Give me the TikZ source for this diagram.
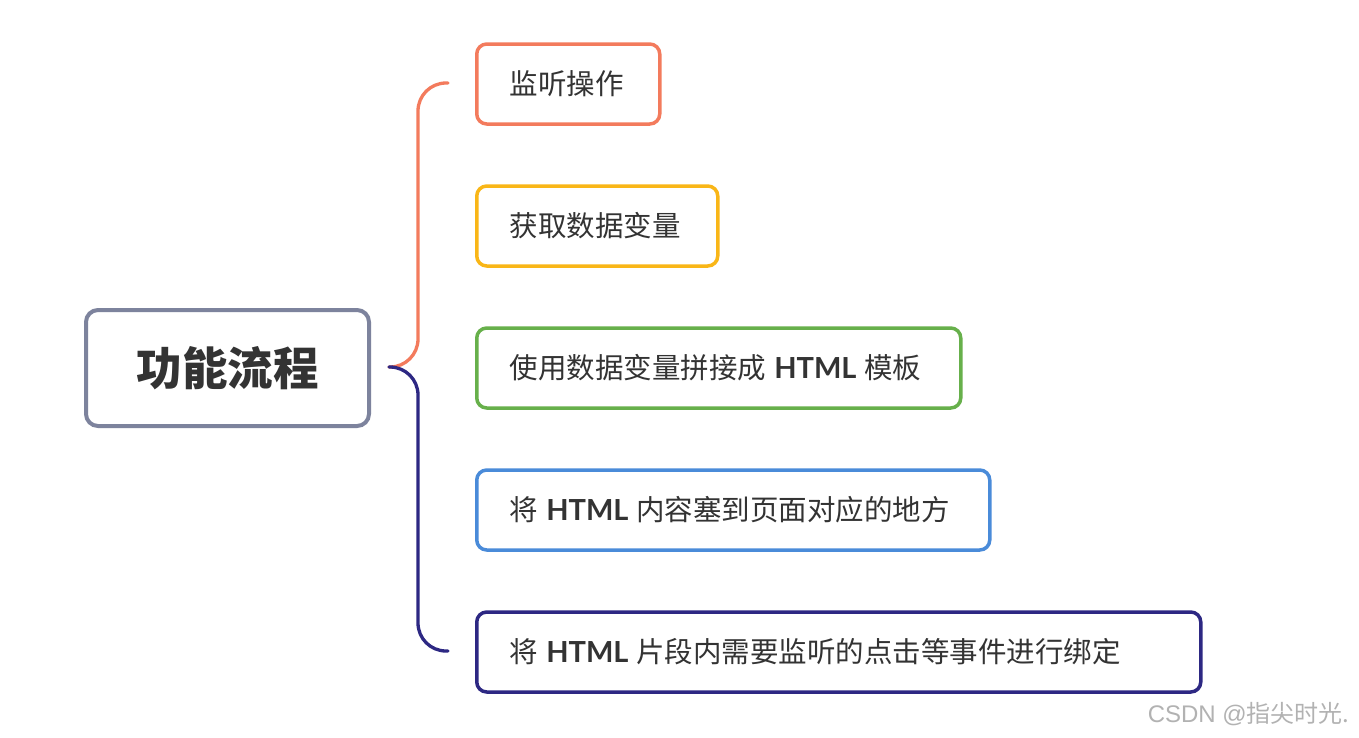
\documentclass[tikz,border=0pt]{standalone}
\usepackage{fontspec}
\setmainfont{Noto Sans CJK SC}
\newfontfamily\latinfont{Lato}
\newfontfamily\wmfont{Liberation Sans}
\usetikzlibrary{calc}
\definecolor{txt}{HTML}{333333}
\definecolor{rootc}{HTML}{7D839D}
\definecolor{c1}{HTML}{F37B5D}
\definecolor{c2}{HTML}{F9B617}
\definecolor{c3}{HTML}{67B04B}
\definecolor{c4}{HTML}{4A8BD9}
\definecolor{c5}{HTML}{2D2883}
\newcommand{\htmltxt}{\hspace{8pt}{\latinfont\bfseries\fontsize{29}{32}\selectfont HTML}\hspace{8pt}}
\tikzset{
  leafbox/.style={draw=#1, rounded corners=10pt, line width=3.5pt, inner xsep=33pt, inner ysep=0pt,
    minimum height=80pt, align=left, anchor=west, text=txt, font=\fontsize{28.5}{32}\selectfont},
  rootbox/.style={draw=rootc, rounded corners=12pt, line width=4pt, minimum width=283pt, minimum height=116pt,
    text=txt, font=\fontsize{45.5}{50}\selectfont\bfseries},
  bracel/.style={draw=#1, line width=3.3pt, rounded corners=28pt, line cap=round},
  wm/.style={text=black!30, font=\fontsize{24}{27}\selectfont, anchor=east}
}
\begin{document}
\begin{tikzpicture}[x=1pt,y=-1pt]
\useasboundingbox[fill=white] (0,0) rectangle (1359,737);
\node[rootbox] (root) at (227.5,368) {功能流程};
\node[leafbox=c1, text width=117pt] (b1) at (475,84) {监听操作};
\node[leafbox=c2, text width=175pt] (b2) at (475,226) {获取数据变量};
\node[leafbox=c3, text width=418pt] (b3) at (475,368) {使用数据变量拼接成\htmltxt 模板};
\node[leafbox=c4, text width=447pt] (b4) at (475,510) {将\htmltxt 内容塞到页面对应的地方};
\node[leafbox=c5, text width=658pt] (b5) at (475,652) {将\htmltxt 片段内需要监听的点击等事件进行绑定};
\coordinate (j) at ($(root.east)+(18,-1)$);
\coordinate (t1) at ($(b1.west)+(-27,-1)$);
\coordinate (t5) at ($(b5.west)+(-27,-1)$);
\draw[bracel=c1] (j) -| ($(t1)+(-30,0)$) -- (t1);
\draw[bracel=c5] (j) -| ($(t5)+(-30,0)$) -- (t5);
\node[wm] (wmk) at (1353,714) {{\wmfont CSDN @}指尖时光.};
\end{tikzpicture}
\end{document}
